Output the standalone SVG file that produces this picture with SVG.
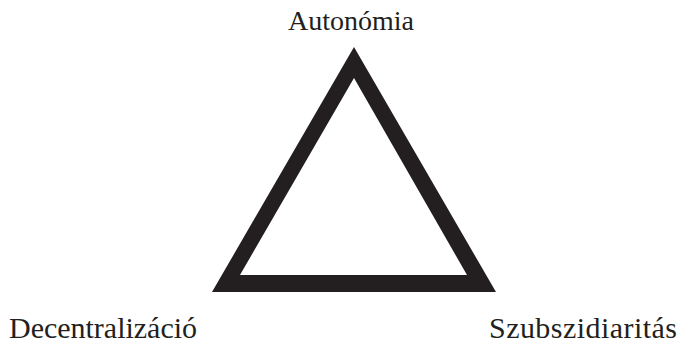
<svg xmlns="http://www.w3.org/2000/svg" width="682" height="344" viewBox="0 0 682 344">
<style>
.lbl{font-family:"Liberation Serif","Times New Roman",serif;font-size:28px;fill:#231f20}
.big{font-size:30px}
.tri{fill:#231f20;fill-rule:evenodd}
</style>
<rect width="682" height="344" fill="#ffffff"/>
<g id="triangle">
<path class="tri" d="M354,47 L212,292 L496,292 Z M354,78 L240,275 L467,275 Z"/>
</g>
<g id="autonomia"><text class="lbl" x="351" y="30" text-anchor="middle">Autonómia</text></g>
<g id="decentralizacio"><text class="lbl big" x="9" y="338" textLength="188">Decentralizáció</text></g>
<g id="szubszidiaritas"><text class="lbl big" x="489" y="338" textLength="188">Szubszidiaritás</text></g>
</svg>
